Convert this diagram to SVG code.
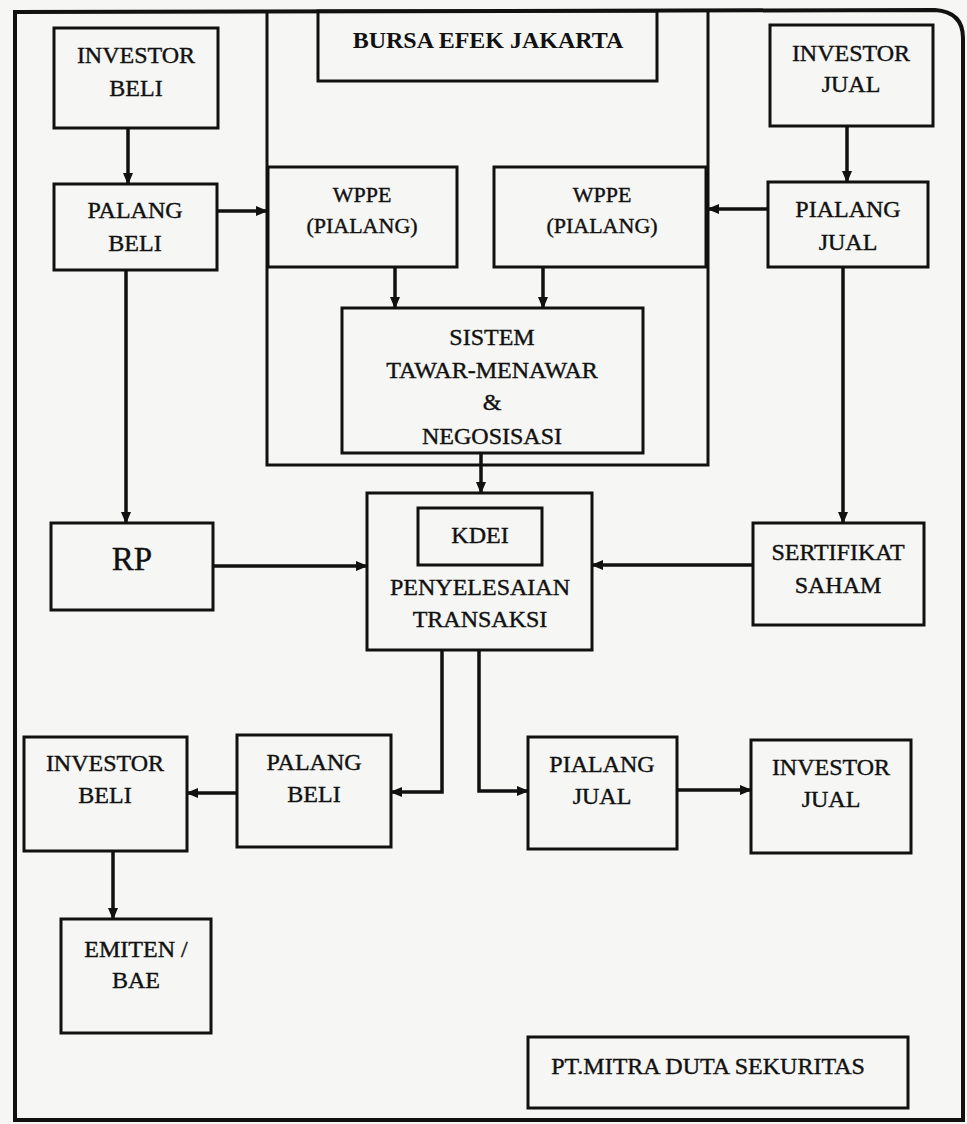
<svg xmlns="http://www.w3.org/2000/svg" width="967" height="1124" viewBox="0 0 967 1124" font-family="'Liberation Serif', 'Times New Roman', 'DejaVu Serif', serif">
<style>
.bg{fill:#f6f6f4}
.box{fill:none;stroke:#111;stroke-width:3}
.frame{fill:none;stroke:#111;stroke-width:4}
.ln{fill:none;stroke:#111;stroke-width:3.5}
.t{font-family:'Liberation Serif', 'Times New Roman', 'DejaVu Serif', serif;font-size:24px;fill:#111;stroke:#111;stroke-width:0.4;text-anchor:middle}
.sm{font-size:22px}
.b{font-weight:bold;stroke-width:0}
.rp{font-size:33px}
</style>
<defs>
<marker id="ah" viewBox="0 0 12 10" refX="11" refY="5" markerWidth="12" markerHeight="10" markerUnits="userSpaceOnUse" orient="auto">
<path d="M0,0 L12,5 L0,10 Z" fill="#111"/>
</marker>
</defs>
<rect class="bg" x="0" y="0" width="967" height="1124"/>
<g id="frame">
<path class="frame" d="M15,1120 L15,12 L935,10 Q963,12 963,38 L963,1120 Z"/>
</g>
<g id="bursa">
<path class="box" d="M267,11 L267,465 L708,465 L708,11"/>
<rect class="box" x="318" y="11" width="339" height="70"/>
<text class="t b" x="488" y="48">BURSA EFEK JAKARTA</text>
</g>
<g id="investor-beli-top">
<rect class="box" x="54" y="28" width="164" height="100"/>
<text class="t" x="136" y="63">INVESTOR</text>
<text class="t" x="136" y="96">BELI</text>
</g>
<g id="palang-beli-top">
<rect class="box" x="54" y="184" width="163" height="86"/>
<text class="t" x="135" y="218">PALANG</text>
<text class="t" x="135" y="251">BELI</text>
</g>
<g id="wppe-left">
<rect class="box" x="268" y="167" width="189" height="100"/>
<text class="t sm" x="362" y="202">WPPE</text>
<text class="t sm" x="362" y="233">(PIALANG)</text>
</g>
<g id="wppe-right">
<rect class="box" x="494" y="167" width="212" height="100"/>
<text class="t sm" x="602" y="202">WPPE</text>
<text class="t sm" x="602" y="233">(PIALANG)</text>
</g>
<g id="investor-jual-top">
<rect class="box" x="770" y="25" width="163" height="101"/>
<text class="t" x="851" y="61">INVESTOR</text>
<text class="t" x="851" y="92">JUAL</text>
</g>
<g id="pialang-jual-top">
<rect class="box" x="768" y="182" width="160" height="85"/>
<text class="t" x="848" y="217">PIALANG</text>
<text class="t" x="848" y="250">JUAL</text>
</g>
<g id="sistem">
<rect class="box" x="342" y="308" width="301" height="145"/>
<text class="t" x="492" y="345">SISTEM</text>
<text class="t" x="492" y="378">TAWAR-MENAWAR</text>
<text class="t" x="492" y="410">&amp;</text>
<text class="t" x="492" y="444">NEGOSISASI</text>
</g>
<g id="kdei">
<rect class="box" x="367" y="493" width="225" height="157"/>
<rect class="box" x="418" y="508" width="124" height="57"/>
<text class="t" x="480" y="543">KDEI</text>
<text class="t" x="480" y="595">PENYELESAIAN</text>
<text class="t" x="480" y="627">TRANSAKSI</text>
</g>
<g id="rp">
<rect class="box" x="51" y="523" width="162" height="87"/>
<text class="t rp" x="132" y="570">RP</text>
</g>
<g id="sertifikat">
<rect class="box" x="753" y="523" width="171" height="102"/>
<text class="t" x="838" y="560">SERTIFIKAT</text>
<text class="t" x="838" y="593">SAHAM</text>
</g>
<g id="investor-beli-bottom">
<rect class="box" x="24" y="737" width="163" height="114"/>
<text class="t" x="105" y="771">INVESTOR</text>
<text class="t" x="105" y="803">BELI</text>
</g>
<g id="palang-beli-bottom">
<rect class="box" x="237" y="735" width="154" height="112"/>
<text class="t" x="314" y="770">PALANG</text>
<text class="t" x="314" y="802">BELI</text>
</g>
<g id="emiten">
<rect class="box" x="61" y="919" width="150" height="114"/>
<text class="t" x="136" y="957">EMITEN /</text>
<text class="t" x="136" y="988">BAE</text>
</g>
<g id="pialang-jual-bottom">
<rect class="box" x="528" y="737" width="149" height="112"/>
<text class="t" x="602" y="772">PIALANG</text>
<text class="t" x="602" y="804">JUAL</text>
</g>
<g id="investor-jual-bottom">
<rect class="box" x="751" y="740" width="160" height="113"/>
<text class="t" x="831" y="775">INVESTOR</text>
<text class="t" x="831" y="807">JUAL</text>
</g>
<g id="pt-mitra">
<rect class="box" x="528" y="1037" width="380" height="71"/>
<text class="t" x="708" y="1074">PT.MITRA DUTA SEKURITAS</text>
</g>
<g id="connectors">
<path class="ln" marker-end="url(#ah)" d="M128,128 L128,184"/>
<path class="ln" marker-end="url(#ah)" d="M217,211 L267,211"/>
<path class="ln" marker-end="url(#ah)" d="M847,126 L847,182"/>
<path class="ln" marker-end="url(#ah)" d="M768,209 L708,209"/>
<path class="ln" marker-end="url(#ah)" d="M395,267 L395,308"/>
<path class="ln" marker-end="url(#ah)" d="M543,267 L543,308"/>
<path class="ln" marker-end="url(#ah)" d="M481,453 L481,493"/>
<path class="ln" marker-end="url(#ah)" d="M126,270 L126,523"/>
<path class="ln" marker-end="url(#ah)" d="M843,267 L843,523"/>
<path class="ln" marker-end="url(#ah)" d="M213,566 L367,566"/>
<path class="ln" marker-end="url(#ah)" d="M753,565 L592,565"/>
<path class="ln" marker-end="url(#ah)" d="M442,650 L442,792 L391,792"/>
<path class="ln" marker-end="url(#ah)" d="M479,650 L479,791 L528,791"/>
<path class="ln" marker-end="url(#ah)" d="M237,793 L187,793"/>
<path class="ln" marker-end="url(#ah)" d="M113,851 L113,919"/>
<path class="ln" marker-end="url(#ah)" d="M677,790 L751,790"/>
</g>
</svg>
